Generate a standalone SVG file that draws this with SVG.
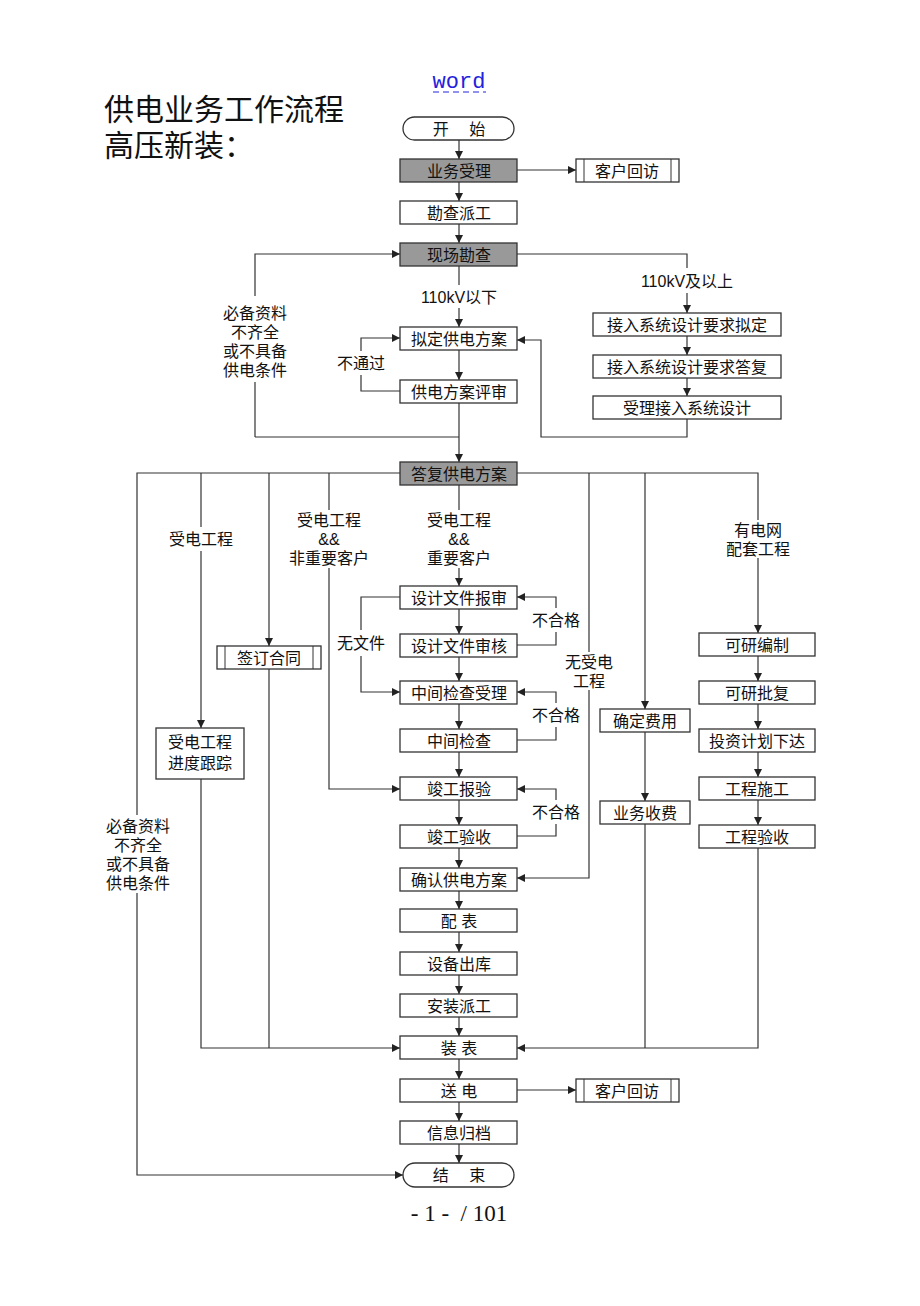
<svg xmlns="http://www.w3.org/2000/svg" width="920" height="1306" viewBox="0 0 920 1306">
<style>
.b{fill:#fff;stroke:#333;stroke-width:1.3}
.g{fill:#999;stroke:#333;stroke-width:1.3}
.t{font-family:"Liberation Sans","Noto Sans CJK SC",sans-serif;font-size:16px;fill:#111;text-anchor:middle;dominant-baseline:central}
.c path,.c line,.c polyline{fill:none;stroke:#333;stroke-width:1.2}
.title{font-family:"Liberation Sans","Noto Sans CJK SC",sans-serif;font-size:30px;fill:#111}
</style>
<defs>
<marker id="a" viewBox="0 0 10 10" refX="10" refY="5" markerWidth="8" markerHeight="8" markerUnits="userSpaceOnUse" orient="auto"><path d="M0,0 L10,5 L0,10 z" fill="#222"/></marker>
</defs>
<rect width="920" height="1306" fill="#fff"/>
<text x="459" y="88" font-family="Liberation Mono,monospace" font-size="22" fill="#2222dd" text-anchor="middle">word</text>
<line x1="433" y1="92" x2="486" y2="92" stroke="#2222dd" stroke-width="1" stroke-dasharray="6,4"/>
<text class="title" x="104" y="120">供电业务工作流程</text>
<text class="title" x="104" y="156">高压新装：</text>

<g class="c" marker-end="url(#a)">
<line x1="459" y1="140" x2="459" y2="159"/>
<line x1="517" y1="170" x2="576" y2="170"/>
<line x1="459" y1="182" x2="459" y2="201"/>
<line x1="459" y1="224" x2="459" y2="243"/>
<polyline points="255,437 255,382" marker-end="none"/>
<polyline points="255,296 255,254 400,254"/>
<line x1="459" y1="266" x2="459" y2="285" marker-end="none"/>
<line x1="459" y1="308" x2="459" y2="327"/>
<polyline points="517,254 687,254 687,268" marker-end="none"/>
<line x1="687" y1="293" x2="687" y2="313"/>
<line x1="687" y1="336" x2="687" y2="355"/>
<line x1="687" y1="378" x2="687" y2="396"/>
<line x1="459" y1="350" x2="459" y2="380"/>
<polyline points="400,391 361,391 361,375" marker-end="none"/>
<polyline points="361,351 361,338 400,338"/>
<polyline points="687,419 687,437 541,437 541,340 517,340"/>
<polyline points="255,437 459,437" marker-end="none"/>
<line x1="459" y1="403" x2="459" y2="462"/>
<polyline points="400,473 137,473 137,815" marker-end="none"/>
<polyline points="137,893 137,1175 403,1175"/>
<polyline points="517,473 758,473 758,520" marker-end="none"/>
<line x1="201" y1="473" x2="201" y2="527" marker-end="none"/>
<line x1="201" y1="551" x2="201" y2="728"/>
<line x1="269" y1="473" x2="269" y2="646"/>
<line x1="329" y1="473" x2="329" y2="510" marker-end="none"/>
<polyline points="329,568 329,789 400,789"/>
<line x1="459" y1="485" x2="459" y2="510" marker-end="none"/>
<line x1="459" y1="568" x2="459" y2="586"/>
<line x1="589" y1="473" x2="589" y2="652" marker-end="none"/>
<polyline points="589,690 589,878 517,878"/>
<line x1="645" y1="473" x2="645" y2="709"/>
<line x1="645" y1="732" x2="645" y2="801"/>
<polyline points="645,824 645,1048" marker-end="none"/>
<line x1="758" y1="558" x2="758" y2="633"/>
<line x1="758" y1="656" x2="758" y2="681"/>
<line x1="758" y1="704" x2="758" y2="729"/>
<line x1="758" y1="752" x2="758" y2="777"/>
<line x1="758" y1="800" x2="758" y2="825"/>
<polyline points="758,848 758,1048 517,1048"/>
<polyline points="201,779 201,1048 400,1048"/>
<line x1="269" y1="669" x2="269" y2="1048" marker-end="none"/>
<line x1="459" y1="609" x2="459" y2="634"/>
<line x1="459" y1="657" x2="459" y2="681"/>
<line x1="459" y1="704" x2="459" y2="729"/>
<line x1="459" y1="752" x2="459" y2="777"/>
<line x1="459" y1="800" x2="459" y2="825"/>
<line x1="459" y1="848" x2="459" y2="868"/>
<line x1="459" y1="891" x2="459" y2="909"/>
<line x1="459" y1="932" x2="459" y2="952"/>
<line x1="459" y1="975" x2="459" y2="994"/>
<line x1="459" y1="1017" x2="459" y2="1036"/>
<line x1="459" y1="1059" x2="459" y2="1079"/>
<line x1="517" y1="1090" x2="576" y2="1090"/>
<line x1="459" y1="1102" x2="459" y2="1121"/>
<line x1="459" y1="1144" x2="459" y2="1163"/>
<polyline points="517,645 556,645 556,632" marker-end="none"/>
<polyline points="556,608 556,597 517,597"/>
<polyline points="517,740 556,740 556,727" marker-end="none"/>
<polyline points="556,703 556,692 517,692"/>
<polyline points="517,836 556,836 556,824" marker-end="none"/>
<polyline points="556,800 556,789 517,789"/>
<polyline points="400,597 361,597 361,630" marker-end="none"/>
<polyline points="361,656 361,692 400,692"/>
</g>

<g class="t">
<text x="459" y="297">110kV以下</text>
<text x="687" y="281">110kV及以上</text>
<text x="255" y="313">必备资料</text>
<text x="255" y="332">不齐全</text>
<text x="255" y="351">或不具备</text>
<text x="255" y="370">供电条件</text>
<text x="361" y="363">不通过</text>
<text x="201" y="539">受电工程</text>
<text x="329" y="520">受电工程</text>
<text x="329" y="539">&amp;&amp;</text>
<text x="329" y="558">非重要客户</text>
<text x="459" y="520">受电工程</text>
<text x="459" y="539">&amp;&amp;</text>
<text x="459" y="558">重要客户</text>
<text x="758" y="530">有电网</text>
<text x="758" y="549">配套工程</text>
<text x="589" y="662">无受电</text>
<text x="589" y="681">工程</text>
<text x="361" y="643">无文件</text>
<text x="556" y="620">不合格</text>
<text x="556" y="715">不合格</text>
<text x="556" y="812">不合格</text>
<text x="138" y="826">必备资料</text>
<text x="138" y="845">不齐全</text>
<text x="138" y="864">或不具备</text>
<text x="138" y="883">供电条件</text>
</g>

<g id="start"><rect class="b" x="403" y="117" width="111" height="23" rx="11.5"/><text class="t" x="459" y="129">开　 始</text></g>
<g id="n1"><rect class="g" x="400" y="159" width="117" height="23"/><text class="t" x="459" y="171">业务受理</text></g>
<g id="hf1"><rect class="b" x="576" y="159" width="103" height="23"/><line x1="584" y1="159" x2="584" y2="182" stroke="#333"/><line x1="671" y1="159" x2="671" y2="182" stroke="#333"/><text class="t" x="627" y="171">客户回访</text></g>
<g id="n2"><rect class="b" x="400" y="201" width="117" height="23"/><text class="t" x="459" y="213">勘查派工</text></g>
<g id="n3"><rect class="g" x="400" y="243" width="117" height="23"/><text class="t" x="459" y="255">现场勘查</text></g>
<g id="n4"><rect class="b" x="400" y="327" width="117" height="23"/><text class="t" x="459" y="339">拟定供电方案</text></g>
<g id="n5"><rect class="b" x="400" y="380" width="117" height="23"/><text class="t" x="459" y="392">供电方案评审</text></g>
<g id="r1"><rect class="b" x="593" y="313" width="188" height="23"/><text class="t" x="687" y="325">接入系统设计要求拟定</text></g>
<g id="r2"><rect class="b" x="593" y="355" width="188" height="23"/><text class="t" x="687" y="367">接入系统设计要求答复</text></g>
<g id="r3"><rect class="b" x="593" y="396" width="188" height="23"/><text class="t" x="687" y="408">受理接入系统设计</text></g>
<g id="n6"><rect class="g" x="400" y="462" width="117" height="23"/><text class="t" x="459" y="474">答复供电方案</text></g>
<g id="p1"><rect class="b" x="156" y="728" width="88" height="51"/><text class="t" x="200" y="742">受电工程</text><text class="t" x="200" y="763">进度跟踪</text></g>
<g id="p2"><rect class="b" x="217" y="646" width="104" height="23"/><line x1="225" y1="646" x2="225" y2="669" stroke="#333"/><line x1="313" y1="646" x2="313" y2="669" stroke="#333"/><text class="t" x="269" y="658">签订合同</text></g>
<g id="m1"><rect class="b" x="400" y="586" width="117" height="23"/><text class="t" x="459" y="598">设计文件报审</text></g>
<g id="m2"><rect class="b" x="400" y="634" width="117" height="23"/><text class="t" x="459" y="646">设计文件审核</text></g>
<g id="m3"><rect class="b" x="400" y="681" width="117" height="23"/><text class="t" x="459" y="693">中间检查受理</text></g>
<g id="m4"><rect class="b" x="400" y="729" width="117" height="23"/><text class="t" x="459" y="741">中间检查</text></g>
<g id="m5"><rect class="b" x="400" y="777" width="117" height="23"/><text class="t" x="459" y="789">竣工报验</text></g>
<g id="m6"><rect class="b" x="400" y="825" width="117" height="23"/><text class="t" x="459" y="837">竣工验收</text></g>
<g id="m7"><rect class="b" x="400" y="868" width="117" height="23"/><text class="t" x="459" y="880">确认供电方案</text></g>
<g id="m8"><rect class="b" x="400" y="909" width="117" height="23"/><text class="t" x="459" y="921">配 表</text></g>
<g id="m9"><rect class="b" x="400" y="952" width="117" height="23"/><text class="t" x="459" y="964">设备出库</text></g>
<g id="m10"><rect class="b" x="400" y="994" width="117" height="23"/><text class="t" x="459" y="1006">安装派工</text></g>
<g id="m11"><rect class="b" x="400" y="1036" width="117" height="23"/><text class="t" x="459" y="1048">装 表</text></g>
<g id="m12"><rect class="b" x="400" y="1079" width="117" height="23"/><text class="t" x="459" y="1091">送 电</text></g>
<g id="hf2"><rect class="b" x="576" y="1079" width="103" height="23"/><line x1="584" y1="1079" x2="584" y2="1102" stroke="#333"/><line x1="671" y1="1079" x2="671" y2="1102" stroke="#333"/><text class="t" x="627" y="1091">客户回访</text></g>
<g id="m13"><rect class="b" x="400" y="1121" width="117" height="23"/><text class="t" x="459" y="1133">信息归档</text></g>
<g id="end"><rect class="b" x="403" y="1163" width="111" height="24" rx="12"/><text class="t" x="459" y="1175">结　 束</text></g>
<g id="f1"><rect class="b" x="600" y="709" width="90" height="23"/><text class="t" x="645" y="721">确定费用</text></g>
<g id="f2"><rect class="b" x="600" y="801" width="90" height="23"/><text class="t" x="645" y="813">业务收费</text></g>
<g id="k1"><rect class="b" x="699" y="633" width="116" height="23"/><text class="t" x="757" y="645">可研编制</text></g>
<g id="k2"><rect class="b" x="699" y="681" width="116" height="23"/><text class="t" x="757" y="693">可研批复</text></g>
<g id="k3"><rect class="b" x="699" y="729" width="116" height="23"/><text class="t" x="757" y="741">投资计划下达</text></g>
<g id="k4"><rect class="b" x="699" y="777" width="116" height="23"/><text class="t" x="757" y="789">工程施工</text></g>
<g id="k5"><rect class="b" x="699" y="825" width="116" height="23"/><text class="t" x="757" y="837">工程验收</text></g>
<text x="459" y="1221" font-family="Liberation Serif,serif" font-size="23" fill="#111" text-anchor="middle" xml:space="preserve">- 1 -  / 101</text>
</svg>
